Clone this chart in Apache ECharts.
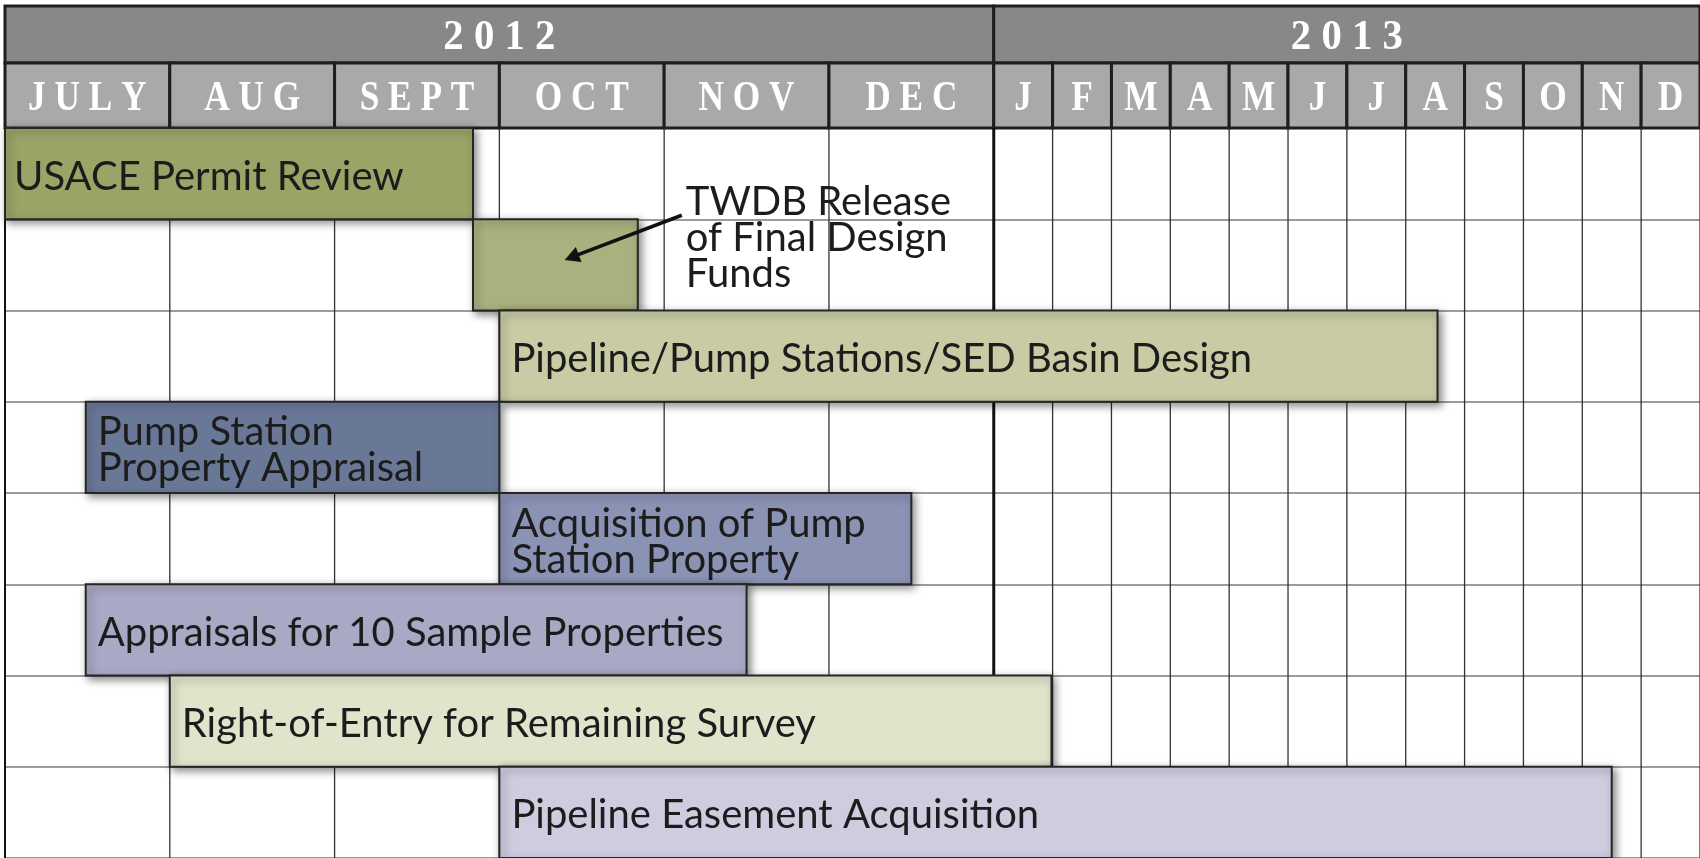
<!DOCTYPE html>
<html>
<head>
<meta charset="utf-8">
<title>Schedule 2012 - 2013</title>
<script src="https://cdn.jsdelivr.net/npm/echarts@6/dist/echarts.min.js"></script>
<style>
  html, body { margin: 0; padding: 0; background: #fff; }
  #chart { width: 1700px; height: 858px; }
</style>
</head>
<body>
<div id="chart"></div>
<script>
// header: years and months (month index counted from July 2012)
const years = ['2012', '2013'];
const yearStart = [0, 6];
const yearEnd = [6, 18];
const months2012 = ['JULY', 'AUG', 'SEPT', 'OCT', 'NOV', 'DEC'];
const months2013 = ['J', 'F', 'M', 'A', 'M', 'J', 'J', 'A', 'S', 'O', 'N', 'D'];

// tasks, start / end in months from 1 July 2012
const taskNames = [
  'USACE Permit Review',
  'TWDB Release\nof Final Design\nFunds',
  'Pipeline/Pump Stations/SED Basin Design',
  'Pump Station\nProperty Appraisal',
  'Acquisition of Pump\nStation Property',
  'Appraisals for 10 Sample Properties',
  'Right-of-Entry for Remaining Survey',
  'Pipeline Easement Acquisition'
];
const taskStart = [0, 2.84, 3, 0.49, 3, 0.49, 1, 3];
const taskEnd = [2.84, 3.84, 13.54, 3, 5.5, 4.5, 6.98, 16.5];
const taskColors = ['#98a567', '#abb07f', '#c8cba4', '#6a7898', '#8b93b5', '#a9a9c6', '#e2e3cb', '#cfcce0'];
const calloutTask = 1; // label sits outside the box, with an arrow

// 2012 months are drawn wider than 2013 months
const W12 = 2.8;
function pos(m) {
  return m <= 6 ? m * W12 : 6 * W12 + (m - 6);
}
const X_MAX = pos(18);

const HEAD_FONT = 'bold 42px "Liberation Serif", "DejaVu Serif", serif';
const TASK_FONT = '40px Lato, "Open Sans", sans-serif';

function spaced(s) {
  return String(s).split('').join(' ');
}

// header cell (year or month)
function headerCell(labels, fill, scaleX) {
  return function (params, api) {
    const p0 = api.coord([pos(api.value(0)), 1]);
    const p1 = api.coord([pos(api.value(1)), 0]);
    return {
      type: 'group',
      children: [{
        type: 'rect',
        shape: { x: p0[0], y: p0[1], width: p1[0] - p0[0], height: p1[1] - p0[1] },
        style: { fill: fill, stroke: '#1e1e1e', lineWidth: 3 }
      }, {
        type: 'text',
        x: (p0[0] + p1[0]) / 2,
        y: (p0[1] + p1[1]) / 2 + 4,
        scaleX: scaleX,
        style: {
          text: spaced(labels[params.dataIndex]),
          font: HEAD_FONT,
          fill: '#ffffff',
          align: 'center',
          verticalAlign: 'middle'
        }
      }]
    };
  };
}

const monthLabels = months2012.concat(months2013);
const monthData = monthLabels.map((m, i) => [i, i + 1]);
const yearData = years.map((y, i) => [yearStart[i], yearEnd[i]]);
const lineData = [];
for (let m = 0; m <= 18; m++) lineData.push([m]);

function renderGridLine(params, api) {
  const m = api.value(0);
  const x = api.coord([pos(m), 0])[0];
  const cs = params.coordSys;
  return {
    type: 'line',
    shape: { x1: x, y1: cs.y, x2: x, y2: cs.y + cs.height },
    style: {
      stroke: m === 6 || m === 0 ? '#111' : '#333',
      lineWidth: m === 6 ? 3 : (m === 0 ? 2 : 1.3)
    }
  };
}

function renderTask(params, api) {
  const i = params.dataIndex;
  const c0 = api.coord([pos(api.value(0)), i]);
  const c1 = api.coord([pos(api.value(1)), i]);
  const h = api.size([0, 1])[1];
  const top = c0[1] - h / 2;
  const w = c1[0] - c0[0];
  const children = [{
    type: 'rect',
    shape: { x: c0[0], y: top, width: w, height: h },
    style: {
      fill: taskColors[i],
      stroke: '#262626',
      lineWidth: 2,
      shadowBlur: 8,
      shadowOffsetX: 3,
      shadowOffsetY: 3,
      shadowColor: 'rgba(0,0,0,0.45)'
    }
  }];
  if (i === calloutTask) {
    const tx = c1[0] + 48;
    const ty = top + 19;
    children.push({
      type: 'text',
      style: {
        x: tx, y: ty,
        text: taskNames[i],
        font: TASK_FONT,
        lineHeight: 36,
        fill: '#1c1c1c',
        align: 'left',
        verticalAlign: 'middle'
      }
    });
    // arrow from the note back into the box
    const sx = c1[0] + 44, sy = top - 4;
    const ex = c0[0] + 0.556 * w, ey = c0[1] - 5;
    const dx = ex - sx, dy = ey - sy;
    const len = Math.sqrt(dx * dx + dy * dy);
    const ux = dx / len, uy = dy / len;
    const bx = ex - ux * 15, by = ey - uy * 15;
    children.push({
      type: 'line',
      shape: { x1: sx, y1: sy, x2: bx + ux * 4, y2: by + uy * 4 },
      style: { stroke: '#111', lineWidth: 3.5 }
    });
    children.push({
      type: 'polygon',
      shape: { points: [[ex, ey], [bx - uy * 8, by + ux * 8], [bx + uy * 8, by - ux * 8]] },
      style: { fill: '#111' }
    });
  } else {
    children.push({
      type: 'text',
      style: {
        x: c0[0] + (i === 0 ? 9 : 12), y: c0[1] + 3,
        text: taskNames[i],
        font: TASK_FONT,
        lineHeight: 36,
        fill: '#1c1c1c',
        align: 'left',
        verticalAlign: 'middle'
      }
    });
  }
  return { type: 'group', children: children };
}

const chart = echarts.init(document.getElementById('chart'));
chart.setOption({
  animation: false,
  backgroundColor: '#ffffff',
  grid: [
    { left: 5, right: 0, top: 6, height: 57 },
    { left: 5, right: 0, top: 63, height: 65 },
    { left: 5, right: 0, top: 128, height: 731 }
  ],
  xAxis: [0, 1, 2].map(g => ({
    type: 'value', gridIndex: g, min: 0, max: X_MAX, show: false
  })),
  yAxis: [
    { type: 'value', gridIndex: 0, min: 0, max: 1, show: false },
    { type: 'value', gridIndex: 1, min: 0, max: 1, show: false },
    {
      type: 'category', gridIndex: 2, inverse: true,
      data: taskNames,
      axisLine: { show: false },
      axisTick: { show: false },
      axisLabel: { show: false },
      splitLine: { show: true, lineStyle: { color: '#7a7a7a', width: 1.5 } }
    }
  ],
  series: [
    {
      type: 'custom', xAxisIndex: 0, yAxisIndex: 0,
      data: yearData, renderItem: headerCell(years, '#878887', 0.97), clip: false
    },
    {
      type: 'custom', xAxisIndex: 1, yAxisIndex: 1,
      data: monthData, renderItem: headerCell(monthLabels, '#a9a9a9', 0.84), clip: false
    },
    {
      type: 'custom', xAxisIndex: 2, yAxisIndex: 2,
      data: lineData, renderItem: renderGridLine, clip: false, silent: true
    },
    {
      type: 'custom', xAxisIndex: 2, yAxisIndex: 2,
      data: taskNames.map((n, i) => [taskStart[i], taskEnd[i]]),
      encode: { x: [0, 1] },
      renderItem: renderTask, clip: false
    }
  ]
});
</script>
</body>
</html>
